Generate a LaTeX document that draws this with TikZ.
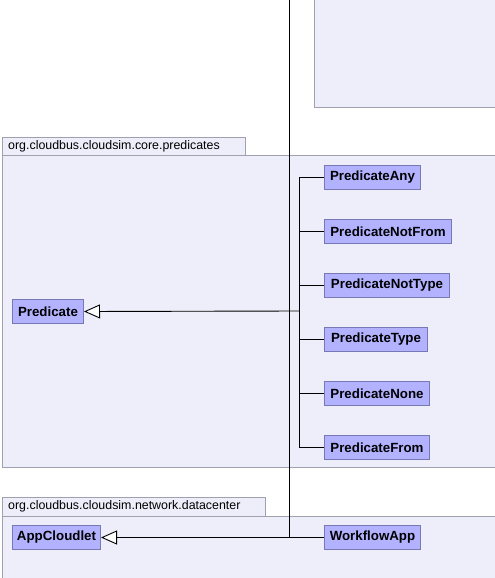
\documentclass[tikz,border=0pt]{standalone}
\usepackage{fontspec}
\setmainfont{Liberation Sans}
\usepackage{xcolor}
\usetikzlibrary{arrows.meta}
\definecolor{pkgfill}{RGB}{238,238,250}
\definecolor{pkgline}{RGB}{160,160,176}
\definecolor{clsfill}{RGB}{178,178,255}
\definecolor{clsline}{RGB}{120,120,180}
\begin{document}
\begin{tikzpicture}[x=1pt,y=-1pt,
  pkg/.style={draw=pkgline,fill=pkgfill,line width=1pt},
  pkgname/.style={anchor=west,inner sep=0pt,font=\fontsize{12.4}{13}\selectfont},
  cls/.style={draw=clsline,fill=clsfill,line width=1pt,anchor=north west,minimum height=24pt,inner sep=0pt,font=\fontsize{13.3}{14}\bfseries},
  inherit/.style={-{Triangle[open,length=16pt,width=14pt,fill=white]},line width=0.9pt}]
\useasboundingbox (0,0) rectangle (495,578);
\fill[white] (0,0) rectangle (495,578);

\draw[pkg] (314,-5) rectangle (500,107);
\draw[pkg] (2,137) rectangle (245,155);
\node[pkgname] (tabpred) at (8,146) {org.cloudbus.cloudsim.core.predicates};
\draw[pkg] (2,155) rectangle (500,467);
\draw[pkg] (2,497) rectangle (265,516);
\node[pkgname] (tabnet) at (8,506.5) {org.cloudbus.cloudsim.network.datacenter};
\draw[pkg] (2,516) rectangle (500,590);

\coordinate (top) at (289,-5);
\coordinate (join) at (289,537);
\coordinate (fork) at (299,311);

\node[cls,minimum width=71pt] (pred) at (12,299) {Predicate};
\node[cls,minimum width=96pt] (any) at (324,165) {PredicateAny};
\node[cls,minimum width=127pt] (notfrom) at (324,219) {PredicateNotFrom};
\node[cls,minimum width=125pt] (nottype) at (324,273) {PredicateNotType};
\node[cls,minimum width=103pt] (type) at (324,327) {PredicateType};
\node[cls,minimum width=105pt] (none) at (324,381) {PredicateNone};
\node[cls,minimum width=105pt] (from) at (324,435) {PredicateFrom};
\node[cls,minimum width=88pt] (appc) at (12,525) {AppCloudlet};
\node[cls,minimum width=96pt] (wf) at (324,525) {WorkflowApp};

\draw[line width=0.9pt] (top) -- (join);
\foreach \n in {any,notfrom,nottype,type,none,from}
  \draw[line width=0.9pt] (\n.west) -| (fork);
\draw[inherit] (fork) -- (pred.east);
\draw[inherit] (wf.west) -- (appc.east);
\end{tikzpicture}
\end{document}
